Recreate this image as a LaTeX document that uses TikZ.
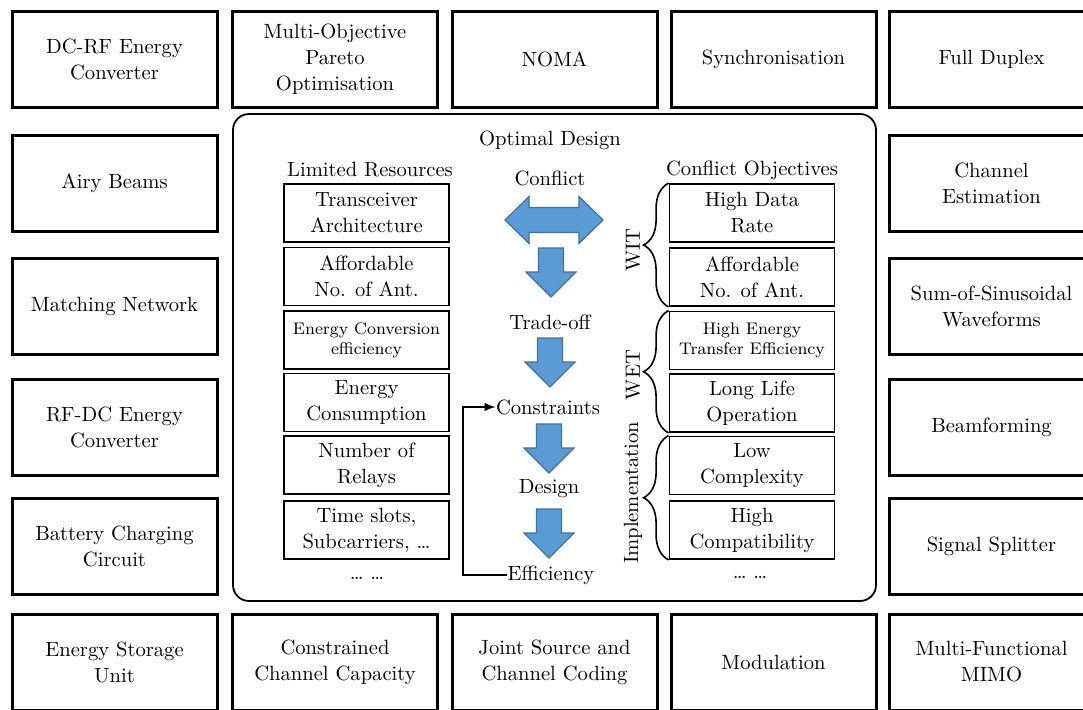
\documentclass[tikz,border=0pt]{standalone}
\usepackage{tikz}
\usetikzlibrary{decorations.pathreplacing}
\definecolor{flowblue}{HTML}{5B9BD5}
\definecolor{flowedge}{HTML}{41719C}
\tikzstyle{topic} = [draw, rectangle, line width=1.5pt, minimum width=102.5pt, minimum height=48pt, text centered, align=center]
\tikzstyle{item} = [draw, rectangle, line width=0.9pt, minimum width=82.5pt, minimum height=29pt, inner sep=1pt, text centered, align=center]
\tikzstyle{stage} = [inner sep=0pt, text centered, align=center]
\tikzstyle{smalltext} = [font=\fontsize{8.4}{9.8}\selectfont]
\tikzstyle{group} = [stage, rotate=90]
\tikzstyle{brc} = [decorate, decoration={brace, amplitude=12.5pt}, line width=0.8pt]
\tikzstyle{feedback} = [-latex, line width=0.9pt]
\tikzstyle{blockarrow} = [fill=flowblue, draw=flowedge, line width=0.6pt]
\tikzstyle{frame} = [draw, line width=0.9pt, rounded corners=8pt]
\tikzset{
  downarrow/.pic={\draw[blockarrow] (-12.5,0) -- (12.5,0) -- (12.5,24) -- (25,24) -- (0,49) -- (-25,24) -- (-12.5,24) -- cycle;},
  bothways/.pic={\draw[blockarrow] (-49,0) -- (-25,-23.5) -- (-25,-12.5) -- (25,-12.5) -- (25,-23.5) -- (49,0) -- (25,23.5) -- (25,12.5) -- (-25,12.5) -- (-25,23.5) -- cycle;}
}

\begin{document}
\begin{tikzpicture}[x=0.5pt, y=-0.5pt, font=\fontsize{10.3}{13}\selectfont]
    \useasboundingbox (0,0) rectangle (1083,709);
    % surrounding topics
    \draw (114.5,59)    node[topic] (T1)  {DC-RF Energy \\ Converter};
    \draw (335,59)      node[topic] (T2)  {Multi-Objective \\ Pareto \\ Optimisation};
    \draw (554.5,59)    node[topic] (T3)  {NOMA};
    \draw (773.5,59)    node[topic] (T4)  {Synchronisation};
    \draw (991.5,59)    node[topic] (T5)  {Full Duplex};
    \draw (114.5,183.5) node[topic] (T6)  {Airy Beams};
    \draw (991.5,183.5) node[topic] (T7)  {Channel \\ Estimation};
    \draw (114.5,306.5) node[topic] (T8)  {Matching Network};
    \draw (991.5,306.5) node[topic] (T9)  {Sum-of-Sinusoidal \\ Waveforms};
    \draw (114.5,427)   node[topic] (T10) {RF-DC Energy \\ Converter};
    \draw (991.5,427)   node[topic] (T11) {Beamforming};
    \draw (114.5,546.5) node[topic] (T12) {Battery Charging \\ Circuit};
    \draw (991.5,546.5) node[topic] (T13) {Signal Splitter};
    \draw (114.5,662)   node[topic] (T14) {Energy Storage \\ Unit};
    \draw (335,662)     node[topic] (T15) {Constrained \\ Channel Capacity};
    \draw (554.5,662)   node[topic] (T16) {Joint Source and \\ Channel Coding};
    \draw (773.5,662)   node[topic] (T17) {Modulation};
    \draw (991.5,662)   node[topic] (T18) {Multi-Functional \\ MIMO};
    % optimal design
    \draw[frame] (233,114) rectangle (876,601);
    \draw (550,140) node[stage] (OD) {Optimal Design};
    \draw (370,170) node[stage] (LR) {Limited Resources};
    \draw (752,170) node[stage] (CO) {Conflict Objectives};
    \draw (366.5,213)   node[item] (R1) {Transceiver \\ Architecture};
    \draw (366.5,276.5) node[item] (R2) {Affordable \\ No. of Ant.};
    \draw (366.5,340)   node[item, smalltext] (R3) {Energy Conversion \\ efficiency};
    \draw (366.5,402.5) node[item] (R4) {Energy \\ Consumption};
    \draw (366.5,465)   node[item] (R5) {Number of \\ Relays};
    \draw (366.5,530)   node[item] (R6) {Time slots, \\ Subcarriers, \dots};
    \draw (367,578)     node[stage] (R7) {\dots\ \dots};
    \draw (752,213)   node[item] (O1) {High Data \\ Rate};
    \draw (752,277)   node[item] (O2) {Affordable \\ No. of Ant.};
    \draw (752,340.5) node[item, smalltext] (O3) {High Energy \\ Transfer Efficiency};
    \draw (752,403)   node[item] (O4) {Long Life \\ Operation};
    \draw (752,465.5) node[item] (O5) {Low \\ Complexity};
    \draw (752,530)   node[item] (O6) {High \\ Compatibility};
    \draw (750,577)   node[stage] (O7) {\dots\ \dots};
    \draw[brc] (O2.south west) -- (O1.north west);
    \draw[brc] (O4.south west) -- (O3.north west);
    \draw[brc] (O6.south west) -- (O5.north west);
    \draw (633,250) node[group] (G1) {WIT};
    \draw (633,375) node[group] (G2) {WET};
    \draw (633,493) node[group] (G3) {Implementation};
    % flow
    \draw (550,178) node[stage] (S1) {Conflict};
    \draw (550,322) node[stage] (S2) {Trade-off};
    \draw (548,407) node[stage] (S3) {Constraints};
    \draw (549,489) node[stage] (S4) {Design};
    \draw (551,575) node[stage] (S5) {Efficiency};
    \pic at (554,220) {bothways};
    \pic at (551,248) {downarrow};
    \pic at (550,338) {downarrow};
    \pic at (549,424) {downarrow};
    \pic at (549,509) {downarrow};
    \draw[feedback] (S5.west) -- ++(-44,0) |- (S3.west);
\end{tikzpicture}
\end{document}
